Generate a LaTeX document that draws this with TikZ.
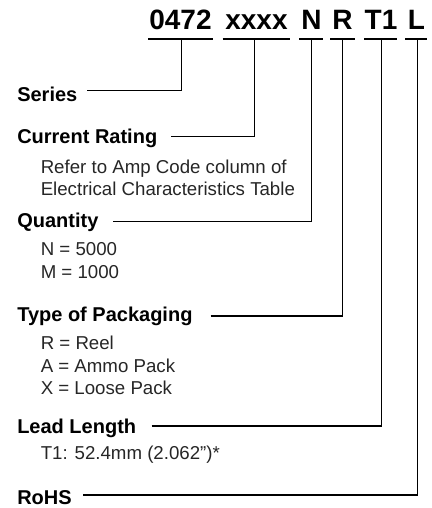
\documentclass[tikz,border=0pt]{standalone}
\usepackage{fontspec}
\setmainfont{Liberation Sans}
\begin{document}
\begin{tikzpicture}[x=0.75pt,y=-0.75pt,
  titletext/.style={font=\bfseries\fontsize{21}{25}\selectfont, inner sep=0pt, anchor=base},
  headtext/.style={font=\bfseries\fontsize{15}{18}\selectfont, inner sep=0pt, anchor=base west},
  subtext/.style={font=\fontsize{14}{16.7}\selectfont, inner sep=0pt, anchor=base west, align=left, text=black!85},
  uline/.style={line width=2pt},
  conn/.style={line width=1pt}]
\useasboundingbox (0,0) rectangle (432,508);

% title code parts
\node[titletext] (t1) at (180.5,29.3) {0472};
\node[titletext] (t2) at (256.5,29.3) {xxxx};
\node[titletext] (t3) at (311.5,29.3) {N};
\node[titletext] (t4) at (342.5,29.3) {R};
\node[titletext] (t5) at (381,29.3) {T1};
\node[titletext] (t6) at (416.5,29.3) {L};

% underlines
\draw[uline] (148.3,39) -- (212.7,39);
\draw[uline] (222.7,39) -- (290,39);
\draw[uline] (299,39) -- (323,39);
\draw[uline] (330,39) -- (355,39);
\draw[uline] (364,39) -- (397,39);
\draw[uline] (405,39) -- (427,39);

% stem tops
\coordinate (s1) at (181.7,39);
\coordinate (s2) at (254.7,39);
\coordinate (s3) at (311.3,39);
\coordinate (s4) at (342.3,39);
\coordinate (s5) at (381.5,39);
\coordinate (s6) at (417.3,39);

% headings
\node[headtext] (series) at (17,101) {Series};
\node[headtext] (current) at (17,143) {Current Rating};
\node[headtext] (qty) at (17,227) {Quantity};
\node[headtext] (pack) at (17,321) {Type of Packaging};
\node[headtext] (lead) at (17,433) {Lead Length};
\node[headtext] (rohs) at (17,504) {RoHS};

% line starts
\coordinate (e1) at (87.3,90.5);
\coordinate (e2) at (171,136.7);
\coordinate (e3) at (113,221.7);
\coordinate (e4) at (210.7,316);
\coordinate (e5) at (151.7,426);
\coordinate (e6) at (83,495);

\draw[conn] (e1) -| (s1);
\draw[conn] (e2) -| (s2);
\draw[conn] (e3) -| (s3);
\draw[conn] (e4) -| (s4);
\draw[conn] (e5) -| (s5);
\draw[conn] (e6) -| (s6);

% descriptions (anchored at the baseline of their last line)
\node[subtext] (refer) at (40.5,195.7) {Refer to Amp Code column of\\Electrical Characteristics Table};
\node[subtext] (qv) at (40.5,278) {N = 5000\\M = 1000};
\node[subtext] (pv) at (40.5,394.5) {R = Reel\\A = Ammo Pack\\X = Loose Pack};
\node[subtext] (lv) at (40.5,459) {T1: 52.4mm (2.062”)*};
\end{tikzpicture}
\end{document}
